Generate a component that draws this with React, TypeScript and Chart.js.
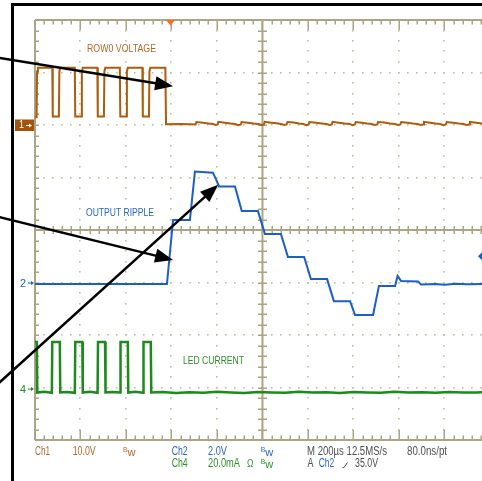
import React, { useEffect, useRef } from "react";
import { Chart, registerables } from "chart.js";

Chart.register(...registerables);

// ---- Scope settings ----
const TIME_PER_DIV = 200; // µs / div
const VISIBLE_TIME = 1965; // µs visible from left graticule edge to canvas edge
const HALF_DIVS = 4;
const TRIGGER_TIME = 600; // µs

// Ch1 – ROW0 VOLTAGE, 10 V/div, ground marker at +2 div
const CH1_SCALE = 10;
const CH1_OFFSET = 2;
// Ch2 – OUTPUT RIPPLE, 2 V/div, marker at -1 div
const CH2_SCALE = 2;
const CH2_OFFSET = -1.01;
// Ch4 – LED CURRENT, 20 mA/div, marker at -3.03 div
const CH4_SCALE = 20;
const CH4_OFFSET = -3.03;

// [time µs, volts]
const ch1Trace: [number, number][] = [
  [0, 1.5], [7, 1.5], [9, 10.2], [13, 10.9], [76, 10.9], [78, 1.6],
  [105, 1.6], [107, 10.2], [111, 10.9], [175, 10.9], [177, 1.6],
  [204, 1.6], [206, 10.2], [210, 10.9], [274, 10.9], [276, 1.6],
  [303, 1.6], [305, 10.2], [309, 10.9], [373, 10.9], [375, 1.6],
  [402, 1.6], [404, 10.2], [408, 10.9], [472, 10.9], [474, 1.6],
  [501, 1.6], [503, 10.2], [507, 10.9], [573, 10.9], [576, 0.15],
  [640, 0.2], [680, 0.15], [706, 0.1],
  [710, 0.55], [738, 0.45], [762, 0.3], [782, 0.2], [793, 0.0], [803, 0.1],
  [806, 0.6], [834, 0.45], [860, 0.28], [880, 0.18], [893, -0.05], [905, 0.1],
  [908, 0.55], [936, 0.45], [960, 0.3], [982, 0.2], [995, 0.0], [1006, 0.1],
  [1010, 0.6], [1038, 0.45], [1062, 0.32], [1082, 0.18], [1095, 0.0], [1106, 0.12],
  [1110, 0.58], [1137, 0.47], [1160, 0.3], [1180, 0.2], [1193, -0.03], [1203, 0.1],
  [1206, 0.57], [1235, 0.45], [1260, 0.3], [1282, 0.18], [1295, 0.0], [1305, 0.1],
  [1308, 0.6], [1336, 0.45], [1360, 0.3], [1383, 0.2], [1396, -0.05], [1406, 0.1],
  [1410, 0.57], [1436, 0.45], [1460, 0.3], [1480, 0.2], [1493, 0.0], [1505, 0.1],
  [1508, 0.58], [1536, 0.47], [1560, 0.3], [1582, 0.18], [1596, 0.0], [1606, 0.1],
  [1610, 0.57], [1637, 0.45], [1660, 0.3], [1682, 0.2], [1695, 0.0], [1706, 0.1],
  [1710, 0.6], [1737, 0.45], [1760, 0.3], [1782, 0.18], [1795, -0.03], [1806, 0.1],
  [1810, 0.57], [1837, 0.45], [1862, 0.3], [1884, 0.2], [1897, 0.0], [1908, 0.1],
  [1912, 0.58], [1940, 0.45], [1965, 0.3],
];

// [time µs, volts]
const ch2Trace: [number, number][] = [
  [0, -0.04], [580, -0.04], [607, 2.4], [681, 2.4], [703, 4.25], [782, 4.2],
  [796, 3.95], [809, 3.68], [879, 3.68], [909, 2.74], [980, 2.74],
  [1011, 1.87], [1081, 1.87], [1112, 0.99], [1183, 0.99], [1213, 0.15],
  [1284, 0.15], [1314, -0.69], [1385, -0.69], [1407, -1.22], [1486, -1.22],
  [1512, -0.11], [1583, -0.11], [1594, 0.27], [1609, 0.08], [1684, 0.06],
  [1697, -0.06], [1760, -0.04], [1800, -0.07], [1850, -0.03], [1900, -0.05],
  [1965, -0.04],
];

// [time µs, mA]
const ch4Trace: [number, number][] = [
  [0, 17.9], [8, 17.9], [10, -1.3], [40, -1.0], [74, -1.4], [76, 17.9],
  [109, 17.9], [111, -1.3], [140, -1.1], [175, -1.4], [177, 17.9],
  [208, 17.9], [210, -1.3], [240, -1.0], [275, -1.4], [277, 17.9],
  [308, 17.9], [310, -1.3], [340, -1.1], [374, -1.3], [376, 17.9],
  [408, 17.9], [410, -1.3], [440, -1.0], [475, -1.4], [477, 17.9],
  [509, 17.9], [511, -1.3], [560, -1.1], [620, -1.5], [680, -1.2],
  [740, -1.4], [800, -1.0], [860, -1.3], [920, -1.5], [980, -1.1],
  [1040, -1.3], [1100, -1.4], [1160, -1.0], [1220, -1.3], [1280, -1.2],
  [1340, -1.5], [1400, -1.1], [1460, -1.3], [1520, -1.4], [1580, -1.0],
  [1640, -1.3], [1700, -1.2], [1760, -1.4], [1820, -1.1], [1880, -1.3],
  [1940, -1.3], [1965, -1.2],
];

// Annotation arrows: [startTime µs, startDiv, endTime µs, endDiv]
const arrows: [number, number, number, number][] = [
  [-160, 3.28, 607, 2.74],
  [-160, 0.25, 607, -0.57],
  [-160, -2.92, 805, 0.86],
];

const BROWN = "#ad5c0c";
const BROWN_TEXT = "#b3692a";
const BLUE = "#1a5ec8";
const BLUE_TEXT = "#2a66cc";
const GREEN = "#1d8a1d";
const GREEN_TEXT = "#2a922a";
const GRAY_TEXT = "#4e4e4e";
const GRID = "#aba485";
const GRID_DOT = "#c4bda2";
const FONT = '"Liberation Sans", Arial, sans-serif';

function toDivs(trace: [number, number][], scale: number, offset: number) {
  return trace.map(([t, v]) => ({ x: t, y: v / scale + offset }));
}

function fitText(
  ctx: CanvasRenderingContext2D,
  text: string,
  left: number,
  mid: number,
  width: number,
  size: number,
  color: string
) {
  ctx.save();
  ctx.font = `${size}px ${FONT}`;
  ctx.fillStyle = color;
  ctx.textBaseline = "middle";
  ctx.textAlign = "left";
  const w = ctx.measureText(text).width || 1;
  ctx.translate(left, mid);
  ctx.scale(width / w, 1);
  ctx.fillText(text, 0, 0);
  ctx.restore();
}

function drawBw(ctx: CanvasRenderingContext2D, left: number, mid: number, color: string) {
  fitText(ctx, "B", left, mid - 2.5, 4.5, 8, color);
  fitText(ctx, "w", left + 4.5, mid + 1, 8, 10, color);
}

const scopePlugin = {
  id: "scopeGraticule",
  beforeDatasetsDraw(chart: any) {
    const { ctx, chartArea: a, scales } = chart;
    const xs = scales.x;
    const ys = scales.y;
    const nMajorX = Math.ceil(VISIBLE_TIME / TIME_PER_DIV);
    ctx.save();
    // dotted grid
    ctx.fillStyle = GRID_DOT;
    for (let k = 1; k <= nMajorX; k++) {
      if (k === 5) continue;
      const px = xs.getPixelForValue(k * TIME_PER_DIV);
      if (px > a.right + 1) continue;
      for (let m = -HALF_DIVS * 5; m <= HALF_DIVS * 5; m++) {
        const py = ys.getPixelForValue(m / 5);
        ctx.fillRect(Math.round(px) - 1, Math.round(py) - 1, 1.6, 1.6);
      }
    }
    for (let d = -HALF_DIVS + 1; d <= HALF_DIVS - 1; d++) {
      if (d === 0) continue;
      const py = ys.getPixelForValue(d);
      for (let m = 0; m <= nMajorX * 5; m++) {
        const px = xs.getPixelForValue((m * TIME_PER_DIV) / 5);
        if (px > a.right + 1) continue;
        ctx.fillRect(Math.round(px) - 1, Math.round(py) - 1, 1.6, 1.6);
      }
    }
    // solid lines
    ctx.strokeStyle = GRID;
    ctx.lineWidth = 2;
    const top = ys.getPixelForValue(HALF_DIVS);
    const bottom = ys.getPixelForValue(-HALF_DIVS);
    const left = xs.getPixelForValue(0);
    const cx = xs.getPixelForValue(5 * TIME_PER_DIV);
    const cy = ys.getPixelForValue(0);
    ctx.beginPath();
    ctx.moveTo(left, top); ctx.lineTo(a.right, top);
    ctx.moveTo(left, bottom); ctx.lineTo(a.right, bottom);
    ctx.moveTo(left, top); ctx.lineTo(left, bottom);
    ctx.moveTo(cx, top); ctx.lineTo(cx, bottom);
    ctx.moveTo(left, cy); ctx.lineTo(a.right, cy);
    ctx.stroke();
    // ticks along horizontal lines
    ctx.lineWidth = 1.5;
    ctx.beginPath();
    for (let m = 1; m <= nMajorX * 5; m++) {
      const px = Math.round(xs.getPixelForValue((m * TIME_PER_DIV) / 5)) + 0.25;
      if (px > a.right + 1) continue;
      const major = m % 5 === 0;
      const len = major ? 10 : 4.5;
      ctx.moveTo(px, top); ctx.lineTo(px, top + len);
      ctx.moveTo(px, bottom); ctx.lineTo(px, bottom - len);
      ctx.moveTo(px, cy - 4); ctx.lineTo(px, cy + 4);
    }
    // ticks along vertical lines
    for (let m = -HALF_DIVS * 5 + 1; m <= HALF_DIVS * 5 - 1; m++) {
      const py = Math.round(ys.getPixelForValue(m / 5)) + 0.25;
      ctx.moveTo(left, py); ctx.lineTo(left + 4, py);
      ctx.moveTo(cx - 4.5, py); ctx.lineTo(cx + 4.5, py);
    }
    ctx.stroke();
    ctx.restore();
  },
  afterDraw(chart: any) {
    const { ctx, scales } = chart;
    const xs = scales.x;
    const ys = scales.y;
    ctx.save();

    // trigger position marker
    const tx = xs.getPixelForValue(TRIGGER_TIME) - 1;
    const top = ys.getPixelForValue(HALF_DIVS);
    ctx.fillStyle = "#ff6b22";
    ctx.beginPath();
    ctx.moveTo(tx - 4.5, top);
    ctx.lineTo(tx + 4.5, top);
    ctx.lineTo(tx, top + 5.5);
    ctx.closePath();
    ctx.fill();

    // channel reference markers
    const y1 = ys.getPixelForValue(CH1_OFFSET);
    ctx.fillStyle = "#a4530b";
    ctx.fillRect(15, y1 - 5.5, 19, 11.5);
    fitText(ctx, "1", 19, y1 + 0.5, 5, 10, "#ffffff");
    ctx.strokeStyle = "#ffffff";
    ctx.fillStyle = "#ffffff";
    ctx.lineWidth = 1;
    ctx.beginPath(); ctx.moveTo(26, y1 + 0.5); ctx.lineTo(30, y1 + 0.5); ctx.stroke();
    ctx.beginPath(); ctx.moveTo(32, y1 + 0.5); ctx.lineTo(29, y1 - 1.5); ctx.lineTo(29, y1 + 2.5); ctx.closePath(); ctx.fill();

    const markers: [string, number, string][] = [
      ["2", ys.getPixelForValue(CH2_OFFSET), BLUE],
      ["4", ys.getPixelForValue(CH4_OFFSET), GREEN],
    ];
    for (const [label, py, col] of markers) {
      fitText(ctx, label, 20, py + 0.5, 6, 11, col);
      ctx.strokeStyle = col;
      ctx.fillStyle = col;
      ctx.beginPath(); ctx.moveTo(28, py); ctx.lineTo(31, py); ctx.stroke();
      ctx.beginPath(); ctx.moveTo(34, py); ctx.lineTo(31, py - 2); ctx.lineTo(31, py + 2); ctx.closePath(); ctx.fill();
    }

    // trigger level marker (right)
    const tl = ys.getPixelForValue(-0.5);
    ctx.fillStyle = BLUE;
    ctx.beginPath();
    ctx.moveTo(478, tl);
    ctx.lineTo(482, tl - 4);
    ctx.lineTo(482, tl + 4);
    ctx.closePath();
    ctx.fill();

    // trace labels
    fitText(ctx, "ROW0 VOLTAGE", 87, 49.5, 69, 10.5, BROWN_TEXT);
    fitText(ctx, "OUTPUT RIPPLE", 86, 213.3, 68, 10.5, BLUE_TEXT);
    fitText(ctx, "LED CURRENT", 183, 361, 61, 10.5, GREEN_TEXT);

    // bottom readout
    const r1 = 452;
    const r2 = 464;
    fitText(ctx, "Ch1", 35, r1, 15, 12, BROWN_TEXT);
    fitText(ctx, "10.0V", 72.7, r1, 23, 12, BROWN_TEXT);
    drawBw(ctx, 123, r1, BROWN_TEXT);
    fitText(ctx, "Ch2", 171.7, r1, 16, 12, BLUE_TEXT);
    fitText(ctx, "2.0V", 208, r1, 19, 12, BLUE_TEXT);
    drawBw(ctx, 260.7, r1, BLUE_TEXT);
    fitText(ctx, "M 200\u00b5s 12.5MS/s", 307, r1, 80, 12, GRAY_TEXT);
    fitText(ctx, "80.0ns/pt", 407, r1, 40, 12, GRAY_TEXT);
    fitText(ctx, "Ch4", 171.7, r2, 16, 12, GREEN_TEXT);
    fitText(ctx, "20.0mA", 208, r2, 32, 12, GREEN_TEXT);
    fitText(ctx, "\u03a9", 247, r2, 6.5, 11, GREEN_TEXT);
    drawBw(ctx, 260.7, r2, GREEN_TEXT);
    fitText(ctx, "A", 307.5, r2, 6, 12, GRAY_TEXT);
    fitText(ctx, "Ch2", 318.7, r2, 15.6, 12, BLUE_TEXT);
    ctx.strokeStyle = GRAY_TEXT;
    ctx.lineWidth = 1;
    ctx.beginPath();
    ctx.moveTo(342.5, r2 + 3.5);
    ctx.lineTo(344, r2 + 3.5);
    ctx.lineTo(347.5, r2 - 1.5);
    ctx.stroke();
    fitText(ctx, "35.0V", 355, r2, 23, 12, GRAY_TEXT);

    // annotation arrows
    ctx.strokeStyle = "#000000";
    ctx.fillStyle = "#000000";
    for (const [t1, d1, t2, d2] of arrows) {
      const x1 = xs.getPixelForValue(t1);
      const y1a = ys.getPixelForValue(d1);
      const x2 = xs.getPixelForValue(t2);
      const y2 = ys.getPixelForValue(d2);
      const ang = Math.atan2(y2 - y1a, x2 - x1);
      const L = 18;
      const W = 7;
      const c = Math.cos(ang);
      const s = Math.sin(ang);
      const bx = x2 - L * c;
      const by = y2 - L * s;
      ctx.lineWidth = 2.5;
      ctx.beginPath();
      ctx.moveTo(x1, y1a);
      ctx.lineTo(bx + 2 * c, by + 2 * s);
      ctx.stroke();
      ctx.beginPath();
      ctx.moveTo(x2, y2);
      ctx.lineTo(bx + W * s, by - W * c);
      ctx.lineTo(bx - W * s, by + W * c);
      ctx.closePath();
      ctx.fill();
    }

    // black frame
    ctx.lineWidth = 3;
    ctx.beginPath();
    ctx.moveTo(12.5, 490);
    ctx.lineTo(12.5, 4.5);
    ctx.lineTo(490, 4.5);
    ctx.stroke();
    ctx.restore();
  },
};

export default function App() {
  const ref = useRef<HTMLCanvasElement | null>(null);
  useEffect(() => {
    if (!ref.current) return;
    const chart = new Chart(ref.current, {
      type: "line",
      data: {
        datasets: [
          {
            label: "Ch1",
            data: toDivs(ch1Trace, CH1_SCALE, CH1_OFFSET),
            borderColor: BROWN,
            borderWidth: 2,
            pointRadius: 0,
            tension: 0,
          },
          {
            label: "Ch2",
            data: toDivs(ch2Trace, CH2_SCALE, CH2_OFFSET),
            borderColor: BLUE,
            borderWidth: 2,
            pointRadius: 0,
            tension: 0,
          },
          {
            label: "Ch4",
            data: toDivs(ch4Trace, CH4_SCALE, CH4_OFFSET),
            borderColor: GREEN,
            borderWidth: 2.5,
            pointRadius: 0,
            tension: 0,
          },
        ],
      },
      options: {
        animation: false,
        responsive: false,
        devicePixelRatio: 1,
        layout: { padding: { left: 35, top: 20, right: 0, bottom: 41 } },
        scales: {
          x: { type: "linear", min: 0, max: VISIBLE_TIME, display: false },
          y: { type: "linear", min: -HALF_DIVS, max: HALF_DIVS, display: false },
        },
        plugins: {
          legend: { display: false },
          tooltip: { enabled: false },
          title: { display: false },
        },
        events: [],
      },
      plugins: [scopePlugin],
    });
    return () => chart.destroy();
  }, []);
  return (
    <div style={{ position: "absolute", left: 0, top: 0, width: 482, height: 481, background: "#ffffff" }}>
      <canvas ref={ref} width={482} height={481} style={{ display: "block" }} />
    </div>
  );
}
